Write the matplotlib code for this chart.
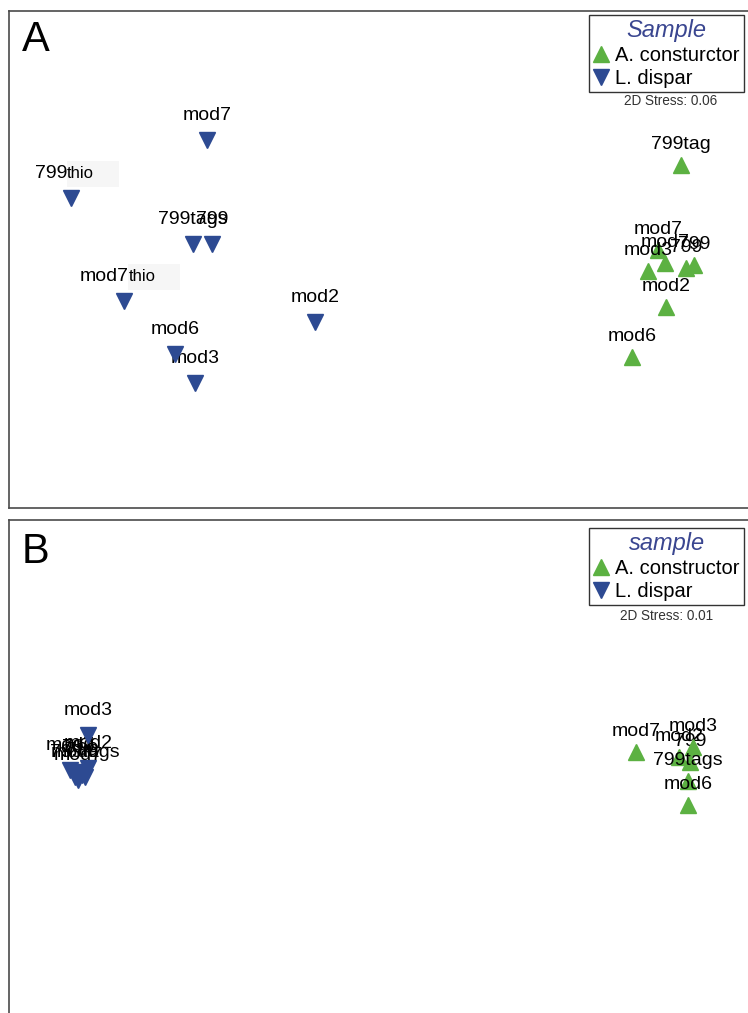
import matplotlib.pyplot as plt
from matplotlib.lines import Line2D
from matplotlib.patches import Rectangle

# nMDS coordinates
# panel A
a_disp_lab = ['mod7', '799thio', '799tags', '799', 'mod7thio', 'mod2', 'mod3', 'mod6']
a_disp_x = [-0.692, -1.236, -0.748, -0.672, -1.024, -0.26, -0.74, -0.82]
a_disp_y = [0.48, 0.248, 0.064, 0.064, -0.164, -0.248, -0.492, -0.376]

a_cons_lab = ['799tag', 'mod7', 'mod3', 'mod7', '799', '799', 'mod2', 'mod6']
a_cons_x = [1.204, 1.112, 1.072, 1.14, 1.224, 1.256, 1.144, 1.008]
a_cons_y = [0.38, 0.04, -0.044, -0.012, -0.032, -0.02, -0.188, -0.388]

# panel B
b_disp_lab = ['mod7', '799', 'mod2', 'mod6', '799tags', 'mod7', '799', 'mod3']
b_disp_x = [-1.24, -1.208, -1.168, -1.22, -1.18, -1.208, -1.192, -1.168]
b_disp_y = [-0.04, -0.048, -0.032, -0.068, -0.068, -0.08, -0.06, 0.1]

b_cons_lab = ['mod7', 'mod2', '799', 'mod3', '799tags', 'mod6']
b_cons_x = [1.024, 1.196, 1.24, 1.252, 1.232, 1.232]
b_cons_y = [0.032, 0.012, -0.008, 0.052, -0.084, -0.18]

stress = ['0.06', '0.01']

GREEN = '#5cb142'
BLUE = '#2d4a92'
TITLE_BLUE = '#3a4690'

plt.rcParams['font.family'] = ['Liberation Sans', 'DejaVu Sans']

fig = plt.figure(figsize=(7.48, 10.13), dpi=100)
H = 1013.0
W = 748.0

axA = fig.add_axes([9 / W, (H - 508) / H, 743 / W, 497 / H])
axA.set_xlim(-1.484, 1.488)
axA.set_ylim(-0.992, 0.996)
axB = fig.add_axes([9 / W, (H - 1020) / H, 743 / W, 500 / H])
axB.set_xlim(-1.484, 1.488)
axB.set_ylim(-1.04, 0.96)

thio_texts = []


def draw_points(ax, xs, ys, labels, marker, color, dy, z0):
    z = z0
    for x, y, lab in zip(xs, ys, labels):
        ax.plot(x, y, marker=marker, ms=11.5, color=color, mec=color,
                ls='none', zorder=z)
        if lab.endswith('thio'):
            base = lab[:-4]
            t = ax.annotate(base, (x, y), xytext=(-14.5, dy), textcoords='offset points',
                            ha='center', va='center', fontsize=14, zorder=z + 0.5)
            thio_texts.append((ax, t))
        else:
            ax.annotate(lab, (x, y), xytext=(0, dy), textcoords='offset points',
                        ha='center', va='center', fontsize=14, zorder=z + 0.5)
        z += 1
    return z


for ax, dx, dy, dl, cx, cy, cl, title, cons_name, st, top in [
        (axA, a_disp_x, a_disp_y, a_disp_lab, a_cons_x, a_cons_y, a_cons_lab,
         'Sample', 'A. consturctor', stress[0], 15),
        (axB, b_disp_x, b_disp_y, b_disp_lab, b_cons_x, b_cons_y, b_cons_lab,
         'sample', 'A. constructor', stress[1], 528)]:
    z = draw_points(ax, dx, dy, dl, 'v', BLUE, 17.5, 2)
    draw_points(ax, cx, cy, cl, '^', GREEN, 14.5, z)
    ax.set_xticks([])
    ax.set_yticks([])
    for s in ax.spines.values():
        s.set_color('#4a4a4a')
        s.set_linewidth(1.2)

    handles = [Line2D([], [], marker='^', color=GREEN, ls='none', ms=11),
               Line2D([], [], marker='v', color=BLUE, ls='none', ms=11)]
    leg = ax.legend(handles, [cons_name, 'L. dispar'], title=title,
                    loc='upper right', fontsize=14.5, frameon=True, fancybox=False,
                    edgecolor='#333333', framealpha=1, borderpad=0.2,
                    labelspacing=0.2, handlelength=0.8, handletextpad=0.3,
                    borderaxespad=0, bbox_to_anchor=(744 / W, 1 - top / H),
                    bbox_transform=fig.transFigure)
    leg.get_frame().set_linewidth(1.0)
    leg.get_title().set_fontsize(17)
    leg.get_title().set_fontstyle('italic')
    leg.get_title().set_color(TITLE_BLUE)
    leg.set_zorder(100)

fig.text(22 / W, 1 - 40 / H, 'A', fontsize=30, va='center', ha='left')
fig.text(22 / W, 1 - 552 / H, 'B', fontsize=30, va='center', ha='left')
fig.text(671 / W, 1 - 101 / H, '2D Stress: ' + stress[0], fontsize=9.8,
         color='#333333', ha='center', va='center')
fig.text(667 / W, 1 - 616 / H, '2D Stress: ' + stress[1], fontsize=9.8,
         color='#333333', ha='center', va='center')

# the "thio" suffix sits on a faint pasted box in the original figure
fig.canvas.draw()
r = fig.canvas.get_renderer()
for ax, t in thio_texts:
    bb = t.get_window_extent(r)
    xe, yc = bb.x1, (bb.y0 + bb.y1) / 2
    fig.patches.append(Rectangle((xe / W, (yc - 13) / H), 52 / W, 26 / H,
                                 transform=fig.transFigure, fc='#f6f6f6',
                                 ec='none', zorder=5, figure=fig))
    fig.text(xe / W, yc / H, 'thio', fontsize=12, ha='left', va='center',
             zorder=6)

fig.savefig('out.png', dpi=100)
